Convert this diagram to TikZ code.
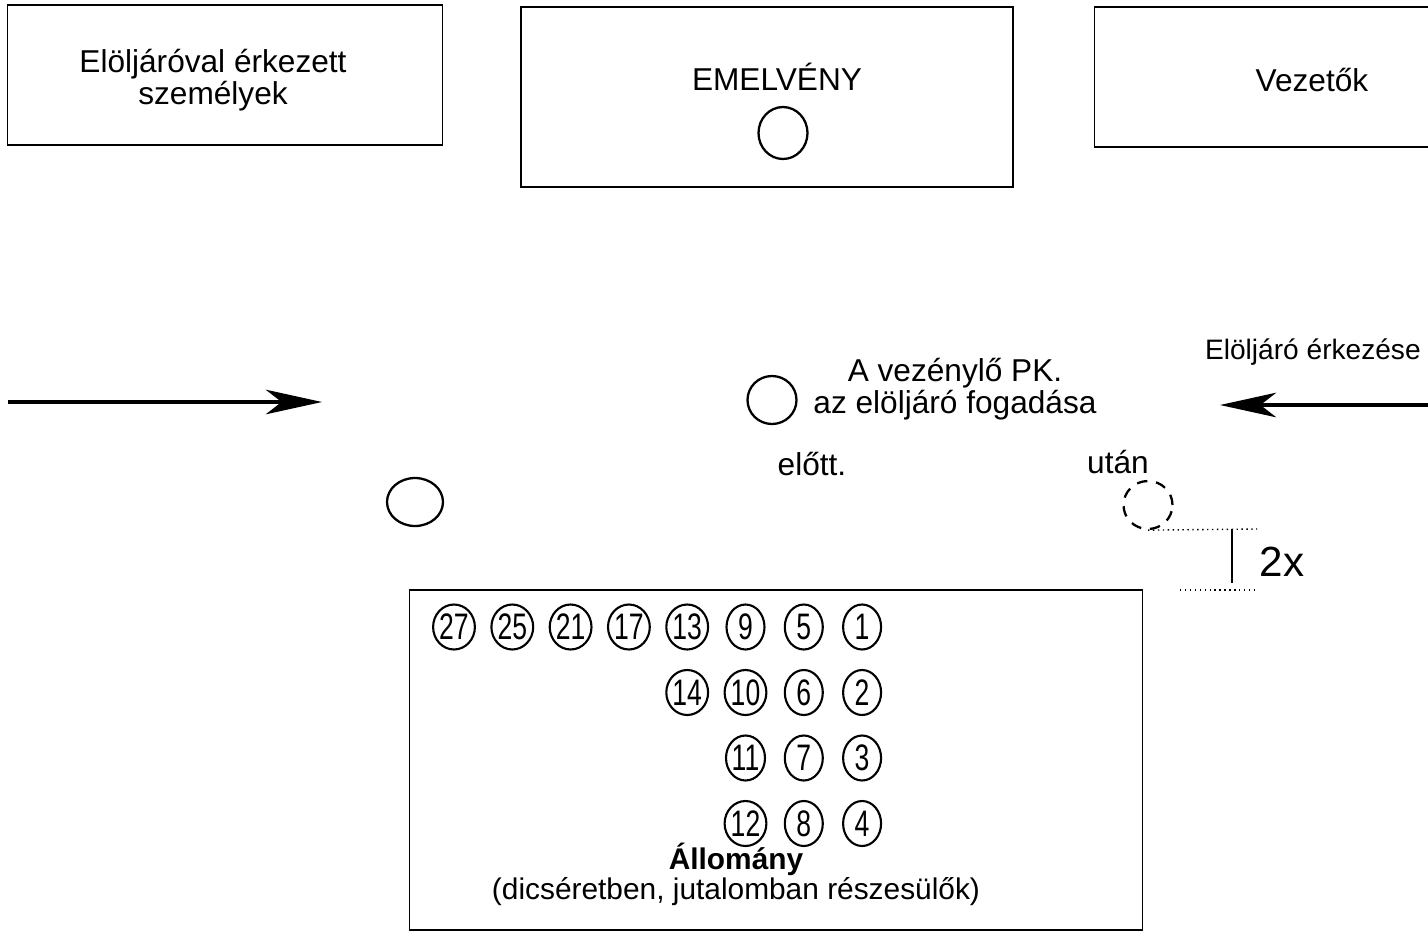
\documentclass[tikz,border=0pt]{standalone}
\usepackage{fontspec}
\setmainfont{Liberation Sans}
\newfontfamily\numfont[FakeStretch=0.72]{Liberation Sans}
\usepackage{tikz}
\usetikzlibrary{arrows.meta, positioning, shapes.geometric}

\begin{document}
\begin{tikzpicture}[x=0.02cm, y=-0.02cm,
    box/.style={draw, line width=1pt, rectangle, inner sep=0pt},
    lbl/.style={font=\fontsize{18}{18}\selectfont, align=center, inner sep=1pt},
    pers/.style={draw, line width=1.3pt, ellipse, minimum width=0.98cm,
      minimum height=0.96cm, inner sep=0pt},
    seat/.style={draw, line width=1.2pt, ellipse, minimum width=0.76cm,
      minimum height=0.9cm, inner sep=0pt, font=\numfont\fontsize{21}{21}\selectfont},
    arr/.style={-{Stealth[length=32pt, width=14pt, inset=9pt]}, line width=1.8pt},
    dim/.style={line width=0.8pt, dotted}]
  \useasboundingbox (0,0) rectangle (1428,934);
  % upper row
  \node[box, minimum width=8.7cm, minimum height=2.8cm] (elolbox) at (225,75) {};
  \node[lbl] (elol) at (213,80) {Elöljáróval érkezett\\személyek};
  \node[box, minimum width=9.84cm, minimum height=3.6cm] (emel) at (767,97) {};
  \node[lbl] (emeltxt) at (777,77) {EMELVÉNY};
  \node[pers, minimum width=0.98cm, minimum height=1.04cm] (emelp) at (783,133) {};
  \node[box, minimum width=9.3cm, minimum height=2.8cm] (vezbox) at (1327,77) {};
  \node[lbl] (vez) at (1312,80) {Vezetők};
  % arrival
  \coordinate (inA) at (8,402);
  \coordinate (inB) at (322,402);
  \draw[arr] (inA) -- (inB);
  \coordinate (erkA) at (1440,405);
  \coordinate (erkB) at (1220,405);
  \draw[arr] (erkA) -- (erkB);
  \node[lbl, font=\fontsize{16}{16}\selectfont, anchor=west] (erk) at (1203,352) {Elöljáró érkezése};
  % commander
  \node[pers] (pk) at (772,400) {};
  \node[lbl] (pktxt) at (955,389) {A vezénylő PK.\\az elöljáró fogadása};
  \node[lbl] (elott) at (812,464) {előtt.};
  \node[lbl] (utan) at (1118,462) {után};
  \node[pers, dashed, dash pattern=on 6pt off 5pt] (utanp) at (1148,505) {};
  \node[pers, minimum width=1.12cm] (balp) at (415,502) {};
  % 2x distance
  \coordinate (dimT) at (1257,529);
  \coordinate (dimBL) at (1180,590);
  \coordinate (dimBR) at (1257,590);
  \coordinate (dimV1) at (1232,529);
  \coordinate (dimV2) at (1232,583);
  \draw[dim] (utanp.south) -- (dimT);
  \draw[dim] (dimBL) -- (dimBR);
  \draw[line width=0.8pt] (dimV1) -- (dimV2);
  \node[font=\fontsize{24}{24}\selectfont] (ketx) at (1282,562) {2x};
  % troops
  \node[box, minimum width=14.66cm, minimum height=6.8cm] (allo) at (776,760) {};
  \foreach \n/\c/\r in {27/0/0, 25/1/0, 21/2/0, 17/3/0, 13/4/0, 9/5/0, 5/6/0, 1/7/0,
      14/4/1, 10/5/1, 6/6/1, 2/7/1, 11/5/2, 7/6/2, 3/7/2, 12/5/3, 8/6/3, 4/7/3}
    \node[seat] (s\n) at ({454+58.3*\c},{627+65.5*\r}) {\n};
  \node[lbl, font=\fontsize{17}{17}\selectfont] (allotxt) at (736,874)
    {\textbf{Állomány}\\(dicséretben, jutalomban részesülők)};
\end{tikzpicture}
\end{document}
